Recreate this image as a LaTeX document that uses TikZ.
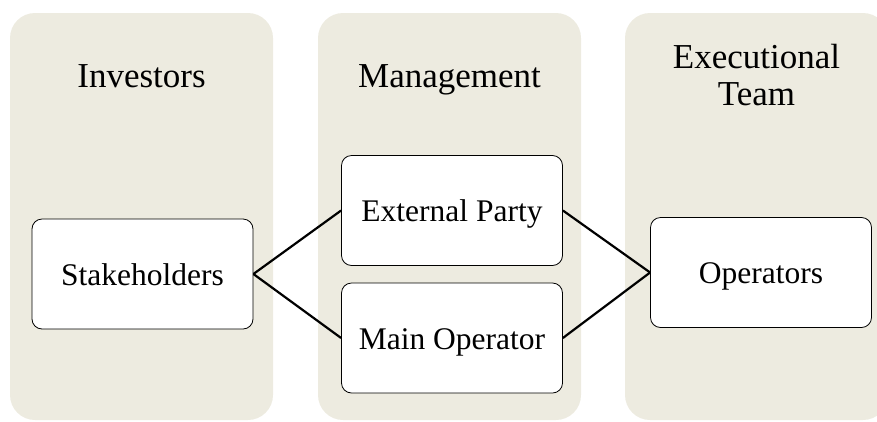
\documentclass[tikz,border=0pt]{standalone}
\usepackage{fontspec}
\setmainfont{Liberation Serif}
\definecolor{colbg}{RGB}{237,235,224}
\begin{document}
\begin{tikzpicture}[x=1pt,y=-1pt,
  column/.style={fill=colbg, draw=none, rounded corners=25pt},
  header/.style={font=\fontsize{35}{37}\selectfont, anchor=base, inner sep=0pt, align=center},
  item/.style={draw=black, line width=0.8pt, fill=white, rounded corners=10pt,
    minimum width=221pt, minimum height=110pt, inner sep=0pt,
    text height=22pt, text depth=0pt, font=\fontsize{31.5}{33}\selectfont},
  link/.style={line width=2.2pt, black}]
\useasboundingbox (0,0) rectangle (877,421);
\begin{scope}
\clip (0,0) rectangle (877,421);
\fill[column] (10,13) rectangle (273,420);
\fill[column] (318,13) rectangle (581,420);
\fill[column] (625,13) rectangle (888,420);
\end{scope}
\node[header] (hinv) at (141.5,87) {Investors};
\node[header] (hman) at (449.5,87) {Management};
\node[header] (hexe) at (756.5,105) {Executional\\Team};
\node[item] (stake) at (142.5,274) {Stakeholders};
\node[item] (ext) at (452,210.5) {External Party};
\node[item] (main) at (452,338) {Main Operator};
\node[item] (ops) at (761,272.5) {Operators};
\draw[link] (stake.east) -- (ext.west);
\draw[link] (stake.east) -- (main.west);
\draw[link] (ext.east) -- (ops.west);
\draw[link] (main.east) -- (ops.west);
\end{tikzpicture}
\end{document}
